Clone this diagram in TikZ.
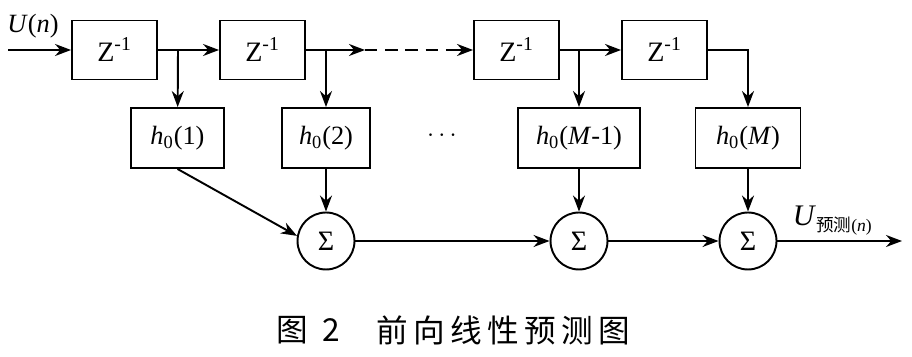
\documentclass[tikz,border=0pt]{standalone}
\usepackage{fontspec}
\setmainfont{Liberation Serif}
\newfontfamily\cjk{Noto Sans CJK SC}
\usetikzlibrary{arrows.meta}
\begin{document}
\begin{tikzpicture}[x=0.02cm, y=-0.02cm, >={Stealth[length=3.2mm,width=2.4mm]},
  every node/.style={font=\fontsize{15}{17}\selectfont},
  every path/.style={line width=1.1pt},
  dbox/.style={draw, minimum width=1.7cm, minimum height=1.18cm, font=\fontsize{16}{18}\selectfont},
  hbox/.style={draw, minimum height=1.2cm},
  sbox/.style={draw, circle, minimum size=1.14cm, inner sep=0pt, font=\fontsize{16}{18}\selectfont}]
  \useasboundingbox (0,0) rectangle (912,357);
  % delay line
  \coordinate (in) at (8,50);
  \node (un) at (33,26) {\textit{U}(\textit{n})};
  \node[dbox] (z1) at (114.5,50) {Z\textsuperscript{-1}};
  \node[dbox] (z2) at (262.5,50) {Z\textsuperscript{-1}};
  \node[dbox] (z3) at (516.5,50) {Z\textsuperscript{-1}};
  \node[dbox] (z4) at (664.5,50) {Z\textsuperscript{-1}};
  \coordinate (b1) at (178,50);
  \coordinate (b2) at (326,50);
  \coordinate (b3) at (579,50);
  \coordinate (d1) at (365,50);
  \coordinate (d2) at (456,50);
  % taps
  \node[hbox, minimum width=1.86cm] (h1) at (177.5,138) {\textit{h}\textsubscript{0}(1)};
  \node[hbox, minimum width=1.76cm] (h2) at (326,138) {\textit{h}\textsubscript{0}(2)};
  \node[hbox, minimum width=2.44cm] (h3) at (579,138) {\textit{h}\textsubscript{0}(\textit{M}-1)};
  \node[hbox, minimum width=2.1cm] (h4) at (748,138) {\textit{h}\textsubscript{0}(\textit{M})};
  \node (dots) at (442,136) {$\cdots$};
  % adders
  \node[sbox] (s1) at (326,241) {Σ};
  \node[sbox] (s2) at (579,241) {Σ};
  \node[sbox] (s3) at (748,241) {Σ};
  \coordinate (out) at (902,241);
  \node[anchor=base west, inner sep=0pt] (lab) at (792,226)
    {\fontsize{17}{19}\selectfont\textit{U}\raisebox{-0.4ex}{\fontsize{10}{11}\selectfont\cjk 预测\rmfamily(\textit{n})}};
  % caption
  \node[anchor=west, inner sep=0pt, font=\cjk\fontsize{18}{20}\selectfont] (cap1) at (276,330) {图\hspace{0.45em}2};
  \node[anchor=west, inner sep=0pt, font=\cjk\fontsize{18}{20}\selectfont] (cap2) at (376,330) {前\,向\,线\,性\,预\,测\,图};
  % connectors
  \draw[->] (in) -- (z1);
  \draw[->] (z1) -- (z2);
  \draw[->] (b1) -- (h1);
  \draw[->] (z2) -- (d1);
  \draw[dash pattern=on 7pt off 4.5pt] (d1) -- (d2);
  \draw[->] (d2) -- (z3);
  \draw[->] (b2) -- (h2);
  \draw[->] (z3) -- (z4);
  \draw[->] (b3) -- (h3);
  \draw[->] (z4.east) -| (h4.north);
  \draw[->] (h1.south) -- (s1.170);
  \draw[->] (h2) -- (s1);
  \draw[->] (h3) -- (s2);
  \draw[->] (h4) -- (s3);
  \draw[->] (s1) -- (s2);
  \draw[->] (s2) -- (s3);
  \draw[->] (s3) -- (out);
\end{tikzpicture}
\end{document}
